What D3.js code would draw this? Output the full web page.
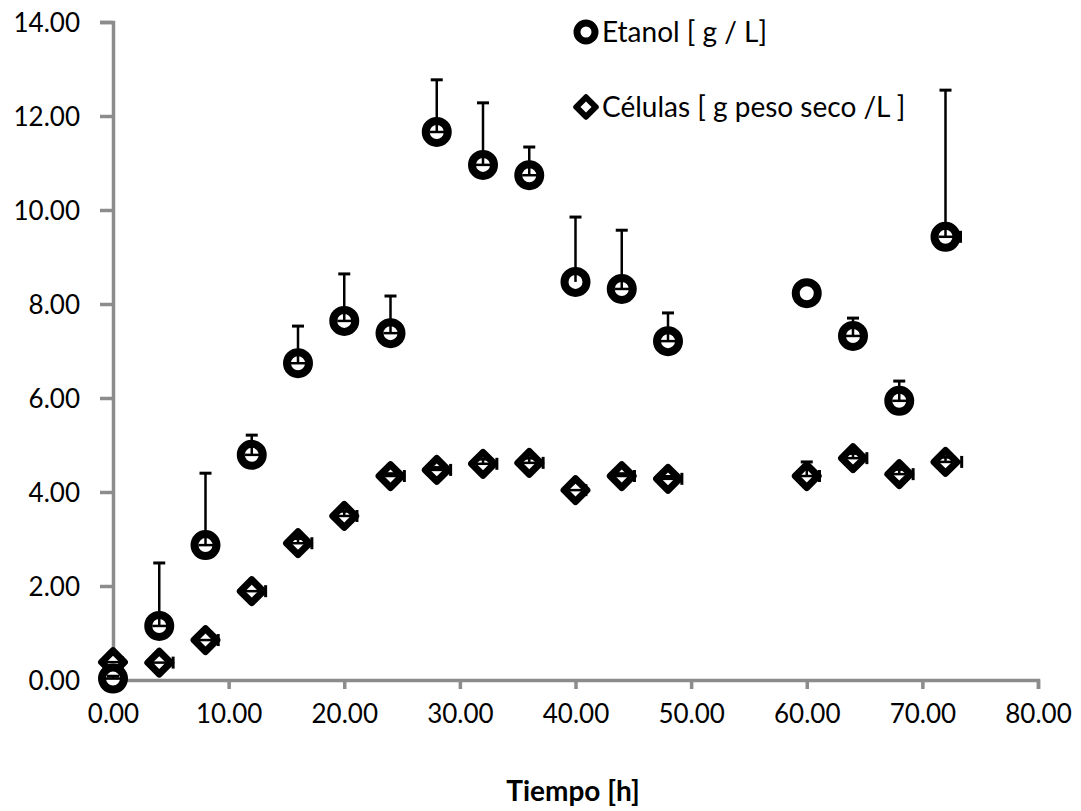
<!DOCTYPE html>
<html>
<head>
<meta charset="utf-8">
<script src="https://cdn.jsdelivr.net/npm/d3@7"></script>
<style>
	body { margin: 0; background: #fff; }
	svg text { font-family: Lato, "Open Sans", sans-serif; fill: #000; }
</style>
</head>
<body>
<div id="chart"></div>
<script>
var horas = [0, 4, 8, 12, 16, 20, 24, 28, 32, 36, 40, 44, 48, 60, 64, 68, 72];
var etanol = [0.03, 1.15, 2.87, 4.79, 6.74, 7.64, 7.38, 11.66, 10.96, 10.74, 8.47, 8.32, 7.21, 8.23, 7.32, 5.94, 9.43];
var etanolErr = [0.05, 1.34, 1.53, 0.42, 0.79, 1.0, 0.79, 1.11, 1.32, 0.6, 1.38, 1.25, 0.6, 0.0, 0.38, 0.42, 3.12];
var etanolErrX = [0.8, 1.0, 0.9, 1.0, 0.9, 1.0, 1.0, 0.9, 1.0, 1.0, 0.0, 0.9, 1.0, 0.0, 1.0, 0.9, 1.3];
var celulas = [0.38, 0.37, 0.85, 1.89, 2.91, 3.49, 4.34, 4.47, 4.60, 4.62, 4.04, 4.34, 4.28, 4.34, 4.72, 4.38, 4.64];
var celulasErr = [0.0, 0.0, 0.0, 0.0, 0.1, 0.1, 0.05, 0.05, 0.1, 0.1, 0.0, 0.05, 0.05, 0.3, 0.1, 0.1, 0.1];
var celulasErrX = [0.8, 1.2, 1.1, 1.2, 1.2, 1.1, 1.2, 1.2, 1.2, 1.2, 0.9, 1.1, 1.2, 1.1, 1.2, 1.2, 1.4];
var xTicks = [0, 10, 20, 30, 40, 50, 60, 70, 80];
var yTicks = [0, 2, 4, 6, 8, 10, 12, 14];
var nombres = ["Etanol [ g / L]", "Células [ g peso seco /L ]"];

var width = 1081, height = 811,
		margin = {top: 22, right: 43, bottom: 131, left: 113},
		axisColor = "#8c8c8c";

var x = d3.scaleLinear().domain([0, 80]).range([margin.left, width - margin.right]);
var y = d3.scaleLinear().domain([0, 14]).range([height - margin.bottom, margin.top]);

var svg = d3.select("#chart").append("svg")
		.attr("width", width)
		.attr("height", height);

// Axes
var yAxis = svg.append("g")
		.attr("transform", "translate(" + margin.left + ",0)")
		.call(d3.axisLeft(y).tickValues(yTicks).tickFormat(d3.format(".2f")).tickSizeOuter(0).tickSize(13).tickPadding(20));
var xAxis = svg.append("g")
		.attr("transform", "translate(0," + y(0) + ")")
		.call(d3.axisBottom(x).tickValues(xTicks).tickFormat(d3.format(".2f")).tickSizeOuter(0).tickSize(9).tickPadding(16));

[xAxis, yAxis].forEach(function(a) {
	a.select(".domain").attr("stroke", axisColor).attr("stroke-width", 3.5);
	a.selectAll(".tick line").attr("stroke", axisColor).attr("stroke-width", 3.5);
	a.selectAll(".tick text").style("font-size", "26px").attr("fill", "#000");
});
yAxis.selectAll(".tick text").attr("dy", "0.35em");

svg.append("text")
		.attr("x", 573)
		.attr("y", 801)
		.attr("text-anchor", "middle")
		.style("font-size", "28px")
		.style("font-weight", "bold")
		.text("Tiempo [h]");

var diamond = d3.symbol().type(d3.symbolSquare).size(260);

function drawSeries(vals, errY, errX, shape) {
	var g = svg.append("g");
	var pts = horas.map(function(h, i) { return {x: h, y: vals[i], ey: errY[i], ex: errX[i]}; });
	if (shape === "circle") {
		g.selectAll("circle").data(pts).enter().append("circle")
				.attr("cx", function(d) { return x(d.x); })
				.attr("cy", function(d) { return y(d.y); })
				.attr("r", 11)
				.attr("fill", "#fff")
				.attr("stroke", "#000")
				.attr("stroke-width", 8);
	} else {
		g.selectAll("path").data(pts).enter().append("path")
				.attr("d", diamond)
				.attr("transform", function(d) { return "translate(" + x(d.x) + "," + y(d.y) + ") rotate(45)"; })
				.attr("fill", "#fff")
				.attr("stroke", "#000")
				.attr("stroke-width", 7)
				.attr("stroke-linejoin", "round");
	}
	// error bars (plus only)
	var eb = g.selectAll(".err").data(pts).enter().append("g").attr("class", "err")
			.attr("stroke", "#000").attr("stroke-width", 2.5);
	eb.filter(function(d) { return d.ey > 0; }).each(function(d) {
		var e = d3.select(this);
		e.append("line").attr("x1", x(d.x)).attr("x2", x(d.x)).attr("y1", y(d.y)).attr("y2", y(d.y + d.ey));
		e.append("line").attr("x1", x(d.x) - 6).attr("x2", x(d.x) + 6).attr("y1", y(d.y + d.ey)).attr("y2", y(d.y + d.ey)).attr("stroke-width", 3);
	});
	eb.filter(function(d) { return d.ex > 0; }).each(function(d) {
		var e = d3.select(this);
		e.append("line").attr("x1", x(d.x) - 7).attr("x2", x(d.x + d.ex)).attr("y1", y(d.y)).attr("y2", y(d.y));
		e.append("line").attr("x1", x(d.x + d.ex)).attr("x2", x(d.x + d.ex)).attr("y1", y(d.y) - 6).attr("y2", y(d.y) + 6).attr("stroke-width", 3);
	});
}

drawSeries(celulas, celulasErr, celulasErrX, "diamond");
drawSeries(etanol, etanolErr, etanolErrX, "circle");

// Legend
var legend = svg.append("g");
legend.append("circle")
		.attr("cx", 586).attr("cy", 32).attr("r", 9)
		.attr("fill", "#fff").attr("stroke", "#000").attr("stroke-width", 7);
legend.append("path")
		.attr("d", d3.symbol().type(d3.symbolSquare).size(190))
		.attr("transform", "translate(586,107) rotate(45)")
		.attr("fill", "#fff").attr("stroke", "#000").attr("stroke-width", 6).attr("stroke-linejoin", "round");
legend.selectAll("text").data(nombres).enter().append("text")
		.attr("x", 602)
		.attr("y", function(d, i) { return 32 + i * 75; })
		.attr("dy", "0.35em")
		.style("font-size", "28px")
		.text(function(d) { return d; });
</script>
</body>
</html>
